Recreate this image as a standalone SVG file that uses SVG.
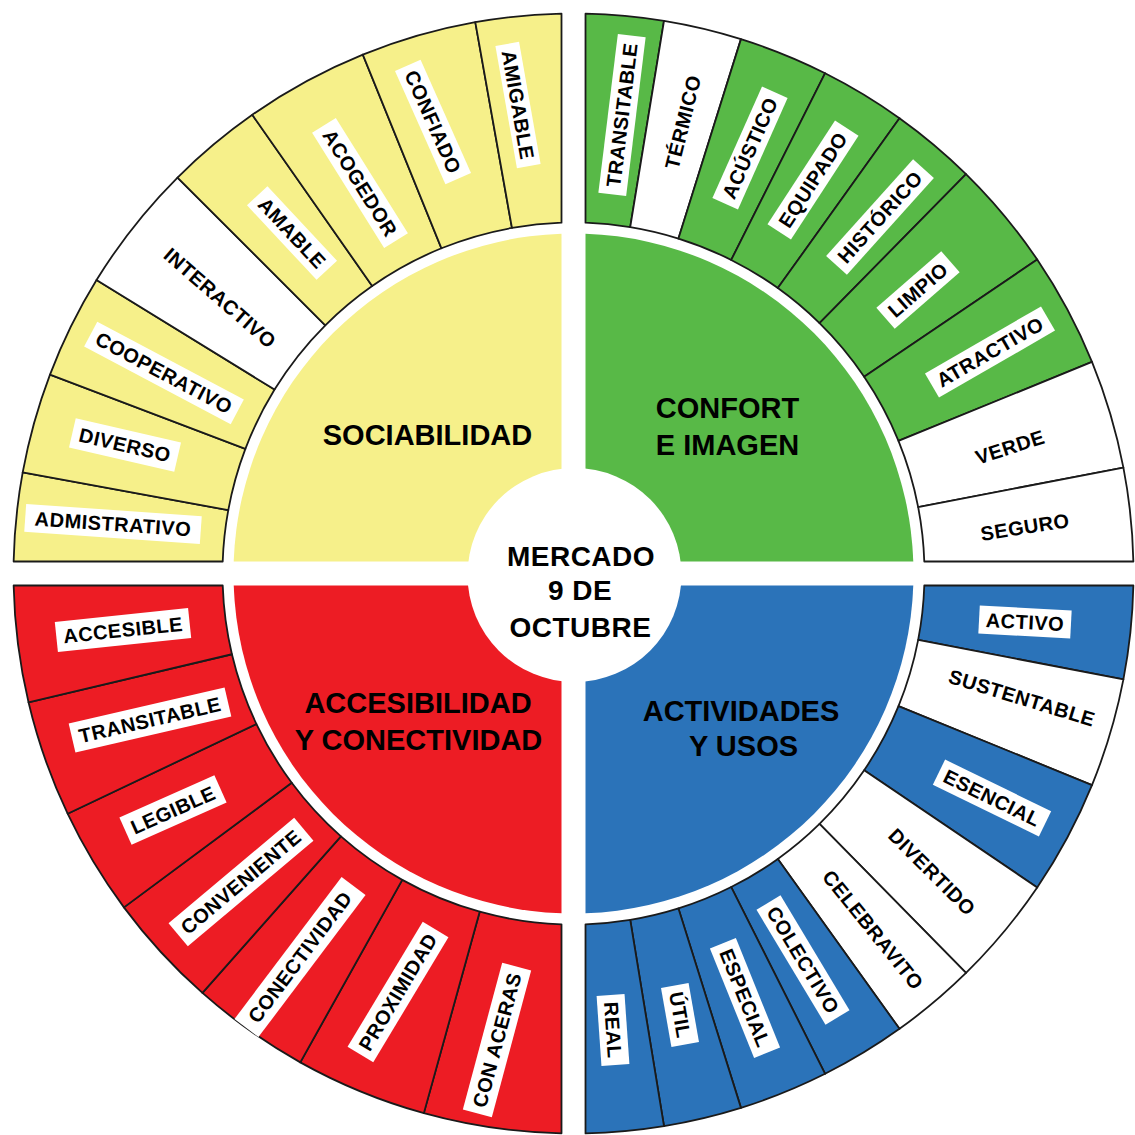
<svg xmlns="http://www.w3.org/2000/svg" width="1135" height="1135" viewBox="0 0 1135 1135">
<style>
.seg{stroke:#1a1a1a;stroke-width:1.8;stroke-linejoin:round}
.y{fill:#F6F08A}.g{fill:#58B947}.r{fill:#ED1C24}.b{fill:#2B73B9}.w{fill:#ffffff}
.lb rect{fill:#ffffff}
.lb text{font-family:"Liberation Sans",Arial,sans-serif;font-weight:bold;font-size:20px;letter-spacing:0.5px;text-anchor:middle;fill:#000}
.t{font-family:"Liberation Sans",Arial,sans-serif;font-weight:bold;font-size:29px;text-anchor:middle;fill:#000}
.c{font-family:"Liberation Sans",Arial,sans-serif;font-weight:bold;font-size:28px;letter-spacing:0.5px;text-anchor:middle;fill:#000}
</style>
<rect width="1135" height="1135" fill="#ffffff"/>

<!-- inner quarter discs with titles -->
<g id="sociabilidad">
<path class="y" d="M561.5,561.5 L233.71,561.5 A340,340 0 0 1 561.5,233.71 Z"/>
<text class="t" x="427.5" y="445">SOCIABILIDAD</text>
</g>
<g id="confort">
<path class="g" d="M585.5,561.5 L585.5,233.71 A340,340 0 0 1 913.29,561.5 Z"/>
<text class="t" x="727.5" y="418">CONFORT</text>
<text class="t" x="727.5" y="455">E IMAGEN</text>
</g>
<g id="actividades">
<path class="b" d="M585.5,585.5 L913.29,585.5 A340,340 0 0 1 585.5,913.29 Z"/>
<text class="t" x="741" y="721">ACTIVIDADES</text>
<text class="t" x="743.5" y="756">Y USOS</text>
</g>
<g id="accesibilidad">
<path class="r" d="M561.5,585.5 L561.5,913.29 A340,340 0 0 1 233.71,585.5 Z"/>
<text class="t" x="418" y="713">ACCESIBILIDAD</text>
<text class="t" x="418.5" y="750">Y CONECTIVIDAD</text>
</g>

<!-- yellow ring -->
<g id="y-admistrativo"><path class="seg y" d="M13.63,561.5 A560,560 0 0 1 22.70,472.41 L228.27,510.14 A351,351 0 0 0 222.71,561.5 Z"/>
<g class="lb" transform="translate(113,524) rotate(4)"><rect x="-88" y="-14" width="176" height="28"/><text y="7">ADMISTRATIVO</text></g></g>
<g id="y-diverso"><path class="seg y" d="M22.70,472.41 A560,560 0 0 1 50.00,374.64 L245.37,448.86 A351,351 0 0 0 228.27,510.14 Z"/>
<g class="lb" transform="translate(125,445) rotate(13)"><rect x="-54" y="-15" width="108" height="30"/><text y="7">DIVERSO</text></g></g>
<g id="y-cooperativo"><path class="seg y" d="M50.00,374.64 A560,560 0 0 1 96.53,280.07 L274.54,389.58 A351,351 0 0 0 245.37,448.86 Z"/>
<g class="lb" transform="translate(164,373) rotate(28)"><rect x="-83" y="-14" width="166" height="28"/><text y="7">COOPERATIVO</text></g></g>
<g id="y-interactivo"><path class="seg w" d="M96.53,280.07 A560,560 0 0 1 177.52,177.52 L325.30,325.30 A351,351 0 0 0 274.54,389.58 Z"/>
<g class="lb" transform="translate(220,298) rotate(41)"><text y="7">INTERACTIVO</text></g></g>
<g id="y-amable"><path class="seg y" d="M177.52,177.52 A560,560 0 0 1 252.30,114.78 L372.17,285.98 A351,351 0 0 0 325.30,325.30 Z"/>
<g class="lb" transform="translate(292,233) rotate(47)"><rect x="-51" y="-14" width="102" height="28"/><text y="7">AMABLE</text></g></g>
<g id="y-acogedor"><path class="seg y" d="M252.30,114.78 A560,560 0 0 1 362.82,54.64 L441.45,248.29 A351,351 0 0 0 372.17,285.98 Z"/>
<g class="lb" transform="translate(360,183) rotate(58)"><rect x="-68" y="-14" width="136" height="28"/><text y="7">ACOGEDOR</text></g></g>
<g id="y-confiado"><path class="seg y" d="M362.82,54.64 A560,560 0 0 1 475.29,22.18 L511.95,227.94 A351,351 0 0 0 441.45,248.29 Z"/>
<g class="lb" transform="translate(433,122) rotate(66)"><rect x="-62" y="-14" width="124" height="28"/><text y="7">CONFIADO</text></g></g>
<g id="y-amigable"><path class="seg y" d="M475.29,22.18 A560,560 0 0 1 561.5,13.63 L561.5,222.71 A351,351 0 0 0 511.95,227.94 Z"/>
<g class="lb" transform="translate(518,105) rotate(80)"><rect x="-62" y="-12" width="124" height="24"/><text y="7">AMIGABLE</text></g></g>

<!-- green ring -->
<g id="g-transitable"><path class="seg g" d="M585.5,13.63 A560,560 0 0 1 664.00,20.86 L630.23,227.11 A351,351 0 0 0 585.5,222.71 Z"/>
<g class="lb" transform="translate(622,115) rotate(-83)"><rect x="-80" y="-14" width="160" height="28"/><text y="7">TRANSITABLE</text></g></g>
<g id="g-termico"><path class="seg w" d="M664.00,20.86 A560,560 0 0 1 740.96,39.13 L678.46,238.56 A351,351 0 0 0 630.23,227.11 Z"/>
<g class="lb" transform="translate(683,122) rotate(-76)"><text y="7">TÉRMICO</text></g></g>
<g id="g-acustico"><path class="seg g" d="M740.96,39.13 A560,560 0 0 1 825.12,73.21 L731.21,259.93 A351,351 0 0 0 678.46,238.56 Z"/>
<g class="lb" transform="translate(750,148) rotate(-66)"><rect x="-61" y="-14" width="122" height="28"/><text y="7">ACÚSTICO</text></g></g>
<g id="g-equipado"><path class="seg g" d="M825.12,73.21 A560,560 0 0 1 899.49,118.16 L777.82,288.10 A351,351 0 0 0 731.21,259.93 Z"/>
<g class="lb" transform="translate(813,180) rotate(-57)"><rect x="-62" y="-14" width="124" height="28"/><text y="7">EQUIPADO</text></g></g>
<g id="g-historico"><path class="seg g" d="M899.49,118.16 A560,560 0 0 1 966.01,174.08 L819.52,323.15 A351,351 0 0 0 777.82,288.10 Z"/>
<g class="lb" transform="translate(880,217) rotate(-48)"><rect x="-65" y="-14" width="130" height="28"/><text y="7">HISTÓRICO</text></g></g>
<g id="g-limpio"><path class="seg g" d="M966.01,174.08 A560,560 0 0 1 1037.21,259.54 L864.15,376.72 A351,351 0 0 0 819.52,323.15 Z"/>
<g class="lb" transform="translate(918,290) rotate(-41)"><rect x="-43" y="-14" width="86" height="28"/><text y="7">LIMPIO</text></g></g>
<g id="g-atractivo"><path class="seg g" d="M1037.21,259.54 A560,560 0 0 1 1091.99,361.91 L898.48,440.88 A351,351 0 0 0 864.15,376.72 Z"/>
<g class="lb" transform="translate(990,352) rotate(-30)"><rect x="-67" y="-14" width="134" height="28"/><text y="7">ATRACTIVO</text></g></g>
<g id="g-verde"><path class="seg w" d="M1091.99,361.91 A560,560 0 0 1 1123.40,467.60 L918.17,507.13 A351,351 0 0 0 898.48,440.88 Z"/>
<g class="lb" transform="translate(1010,447) rotate(-18)"><text y="7">VERDE</text></g></g>
<g id="g-seguro"><path class="seg w" d="M1123.40,467.60 A560,560 0 0 1 1133.37,561.5 L924.29,561.5 A351,351 0 0 0 918.17,507.13 Z"/>
<g class="lb" transform="translate(1025,527) rotate(-9)"><text y="7">SEGURO</text></g></g>

<!-- blue ring -->
<g id="b-activo"><path class="seg b" d="M1133.37,585.5 A560,560 0 0 1 1123.40,679.40 L918.17,639.87 A351,351 0 0 0 924.29,585.5 Z"/>
<g class="lb" transform="translate(1025,622) rotate(3)"><rect x="-46" y="-14" width="92" height="28"/><text y="7">ACTIVO</text></g></g>
<g id="b-sustentable"><path class="seg w" d="M1123.40,679.40 A560,560 0 0 1 1091.99,785.09 L898.48,706.12 A351,351 0 0 0 918.17,639.87 Z"/>
<g class="lb" transform="translate(1022,698) rotate(17)"><text y="7">SUSTENTABLE</text></g></g>
<g id="b-esencial"><path class="seg b" d="M1091.99,785.09 A560,560 0 0 1 1037.21,887.46 L864.15,770.28 A351,351 0 0 0 898.48,706.12 Z"/>
<g class="lb" transform="translate(992,798) rotate(26)"><rect x="-59" y="-14" width="118" height="28"/><text y="7">ESENCIAL</text></g></g>
<g id="b-divertido"><path class="seg w" d="M1037.21,887.46 A560,560 0 0 1 966.01,972.92 L819.52,823.85 A351,351 0 0 0 864.15,770.28 Z"/>
<g class="lb" transform="translate(932,872) rotate(45)"><text y="7">DIVERTIDO</text></g></g>
<g id="b-celebravito"><path class="seg w" d="M966.01,972.92 A560,560 0 0 1 899.49,1028.84 L777.82,858.90 A351,351 0 0 0 819.52,823.85 Z"/>
<g class="lb" transform="translate(873,930) rotate(51)"><text y="7">CELEBRAVITO</text></g></g>
<g id="b-colectivo"><path class="seg b" d="M899.49,1028.84 A560,560 0 0 1 825.12,1073.79 L731.21,887.07 A351,351 0 0 0 777.82,858.90 Z"/>
<g class="lb" transform="translate(803,960) rotate(59)"><rect x="-67" y="-14" width="134" height="28"/><text y="7">COLECTIVO</text></g></g>
<g id="b-especial"><path class="seg b" d="M825.12,1073.79 A560,560 0 0 1 740.96,1107.87 L678.46,908.44 A351,351 0 0 0 731.21,887.07 Z"/>
<g class="lb" transform="translate(745,998) rotate(68)"><rect x="-59" y="-14" width="118" height="28"/><text y="7">ESPECIAL</text></g></g>
<g id="b-util"><path class="seg b" d="M740.96,1107.87 A560,560 0 0 1 664.00,1126.14 L630.23,919.89 A351,351 0 0 0 678.46,908.44 Z"/>
<g class="lb" transform="translate(680,1015) rotate(80)"><rect x="-30" y="-14" width="60" height="28"/><text y="7">ÚTIL</text></g></g>
<g id="b-real"><path class="seg b" d="M664.00,1126.14 A560,560 0 0 1 585.5,1133.37 L585.5,924.29 A351,351 0 0 0 630.23,919.89 Z"/>
<g class="lb" transform="translate(613,1030) rotate(86)"><rect x="-35" y="-14" width="70" height="28"/><text y="7">REAL</text></g></g>

<!-- red ring -->
<g id="r-conaceras"><path class="seg r" d="M561.5,1133.37 A560,560 0 0 1 423.85,1113.13 L479.70,911.73 A351,351 0 0 0 561.5,924.29 Z"/>
<g class="lb" transform="translate(497,1040) rotate(-75)"><rect x="-76" y="-15" width="152" height="30"/><text y="7">CON ACERAS</text></g></g>
<g id="r-proximidad"><path class="seg r" d="M423.85,1113.13 A560,560 0 0 1 300.30,1062.34 L402.26,879.89 A351,351 0 0 0 479.70,911.73 Z"/>
<g class="lb" transform="translate(398,992) rotate(-59)"><rect x="-73" y="-15" width="146" height="30"/><text y="7">PROXIMIDAD</text></g></g>
<g id="r-conectividad"><path class="seg r" d="M300.30,1062.34 A560,560 0 0 1 202.43,992.92 L340.92,836.39 A351,351 0 0 0 402.26,879.89 Z"/>
<g class="lb" transform="translate(300,957) rotate(-53)"><rect x="-89" y="-15" width="178" height="30"/><text y="7">CONECTIVIDAD</text></g></g>
<g id="r-conveniente"><path class="seg r" d="M202.43,992.92 A560,560 0 0 1 123.92,907.38 L291.71,782.77 A351,351 0 0 0 340.92,836.39 Z"/>
<g class="lb" transform="translate(241,882) rotate(-40)"><rect x="-82" y="-15" width="164" height="30"/><text y="7">CONVENIENTE</text></g></g>
<g id="r-legible"><path class="seg r" d="M123.92,907.38 A560,560 0 0 1 67.63,813.71 L256.43,724.06 A351,351 0 0 0 291.71,782.77 Z"/>
<g class="lb" transform="translate(173,810) rotate(-24)"><rect x="-52" y="-15" width="104" height="30"/><text y="7">LEGIBLE</text></g></g>
<g id="r-transitable"><path class="seg r" d="M67.63,813.71 A560,560 0 0 1 28.52,702.33 L231.91,654.25 A351,351 0 0 0 256.43,724.06 Z"/>
<g class="lb" transform="translate(150,720) rotate(-13)"><rect x="-80" y="-15" width="160" height="30"/><text y="7">TRANSITABLE</text></g></g>
<g id="r-accesible"><path class="seg r" d="M28.52,702.33 A560,560 0 0 1 13.63,585.5 L222.71,585.5 A351,351 0 0 0 231.91,654.25 Z"/>
<g class="lb" transform="translate(123,630) rotate(-6)"><rect x="-67" y="-15" width="134" height="30"/><text y="7">ACCESIBLE</text></g></g>

<!-- centre -->
<g id="centro">
<circle cx="574.5" cy="575" r="107" fill="#ffffff"/>
<text class="c" x="581" y="566">MERCADO</text>
<text class="c" x="580" y="600">9 DE</text>
<text class="c" x="580.5" y="637">OCTUBRE</text>
</g>
</svg>
